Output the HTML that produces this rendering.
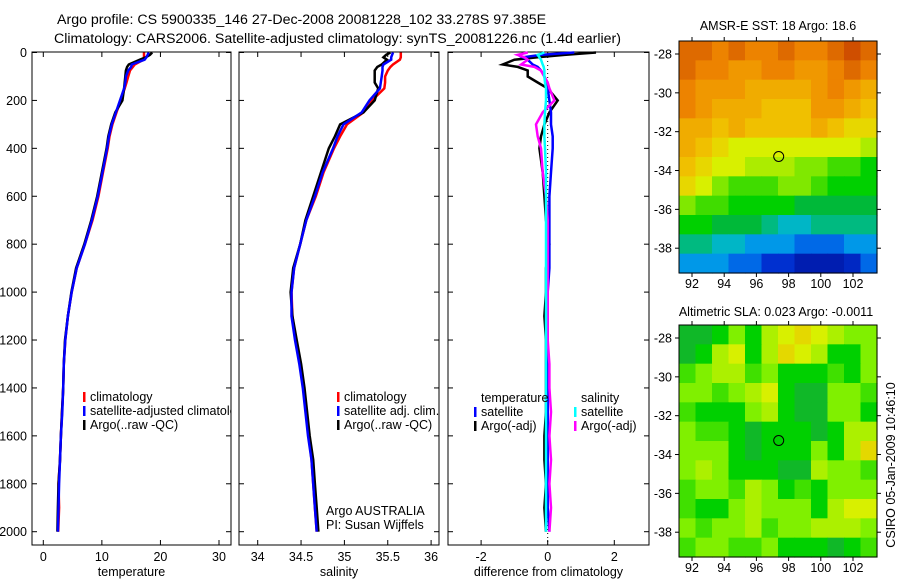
<!DOCTYPE html>
<html><head><meta charset="utf-8"><style>
body{margin:0;background:#fff;}
svg{display:block;font-family:"Liberation Sans",sans-serif;}
text{font-size:12.5px;fill:#000;}
</style></head><body>
<svg id="c" width="900" height="580" xmlns="http://www.w3.org/2000/svg">
<defs><clipPath id="p1clip"><rect x="32" y="52" width="199" height="493"/></clipPath></defs>
<rect width="900" height="580" fill="#fff"/>
<text x="57" y="24" style="font-size:14.2px">Argo profile: CS 5900335_146 27-Dec-2008 20081228_102 33.278S 97.385E</text>
<text x="54" y="43" style="font-size:14.2px">Climatology: CARS2006. Satellite-adjusted climatology: synTS_20081226.nc (1.4d earlier)</text>
<text x="778" y="30" text-anchor="middle">AMSR-E SST: 18 Argo: 18.6</text>
<text x="776" y="316" text-anchor="middle">Altimetric SLA: 0.023 Argo: -0.0011</text>
<text transform="translate(895,465) rotate(-90)" text-anchor="middle">CSIRO 05-Jan-2009 10:46:10</text>
</svg>
<script>
const depths=[0,10,20,30,50,60,75,100,125,150,200,250,300,350,400,500,600,700,800,900,1000,1100,1200,1300,1400,1500,1600,1700,1800,1900,2000];
const tempClim=[17.2,17.2,17.2,17.1,15.6,15.3,14.8,14.5,14.2,13.9,13.2,12.5,11.8,11.3,11.0,10.2,9.4,8.4,7.1,5.7,4.85,4.2,3.75,3.5,3.4,3.2,3.0,2.85,2.6,2.7,2.55];
const tempSatClim=[18.0,17.8,17.6,17.3,15.1,15.0,14.5,14.1,14.0,13.8,13.1,12.4,11.7,11.2,10.9,10.1,9.3,8.3,7.1,5.7,4.85,4.2,3.75,3.5,3.4,3.25,3.0,2.85,2.7,2.6,2.5];
const tempArgo=[18.6,18.2,17.5,16.5,14.6,14.3,14.1,14.0,13.9,13.8,13.5,12.3,11.6,11.1,10.8,10.0,9.2,8.2,7.0,5.6,4.8,4.2,3.7,3.5,3.4,3.2,3.0,2.85,2.6,2.5,2.4];
const salClim=[35.65,35.65,35.65,35.64,35.56,35.53,35.5,35.47,35.47,35.46,35.32,35.22,35.03,34.95,34.88,34.76,34.67,34.56,34.49,34.42,34.39,34.4,34.44,34.49,34.53,34.56,34.59,34.62,34.64,34.66,34.68];
const salSatClim=[35.56,35.55,35.54,35.54,35.45,35.44,35.44,35.43,35.42,35.41,35.29,35.2,34.99,34.92,34.87,34.75,34.66,34.56,34.49,34.42,34.39,34.39,34.43,34.48,34.52,34.55,34.58,34.62,34.64,34.66,34.68];
const salArgo=[35.53,35.48,35.45,35.49,35.43,35.38,35.35,35.35,35.35,35.39,35.35,35.22,34.95,34.89,34.82,34.73,34.64,34.55,34.49,34.41,34.38,34.4,34.45,34.5,34.54,34.57,34.6,34.64,34.66,34.68,34.7];
const dTempArgo=[1.45,0.5,-0.3,-1.0,-1.35,-0.9,-0.6,-0.6,-0.3,0,0.3,0.05,-0.1,-0.2,-0.25,-0.15,-0.1,-0.05,0.05,-0.05,-0.05,-0.1,-0.05,-0.05,-0.05,-0.05,-0.1,-0.1,-0.05,-0.1,-0.05];
const dTempSat=[0.8,-0.2,-0.75,-0.6,-0.45,-0.3,-0.2,-0.1,-0.05,0,0.05,0.1,0.1,0.15,0.15,0.1,0.05,0.05,0.05,0.05,0,0,0,0,0,0,0,0,0,0,0.05];
const dSalArgo=[-0.6,-0.9,-0.7,-0.6,-0.8,-0.4,-0.2,-0.1,0,0.05,0.2,-0.15,-0.35,-0.3,-0.2,-0.15,-0.05,0,0,0,0,0,0,0.05,0.05,0.1,0.05,0.1,0.05,0.1,0.05];
const dSalSat=[-0.1,-0.3,-0.25,-0.2,-0.15,-0.12,-0.1,-0.1,-0.08,-0.05,-0.05,-0.08,-0.1,-0.1,-0.08,-0.05,-0.05,-0.05,-0.05,-0.05,-0.05,-0.05,-0.05,-0.05,-0.05,-0.05,-0.05,-0.05,-0.05,-0.05,-0.05];
const depthTicks=[0,200,400,600,800,1000,1200,1400,1600,1800,2000];
const tempTicks=[0,10,20,30];
const salTicks=[34,34.5,35,35.5,36];
const salTickLabels=["34","34.5","35","35.5","36"];
const diffTicks=[-2,0,2];
const lonTicks=[92,94,96,98,100,102];
const latTicks=[-28,-30,-32,-34,-36,-38];
const argoLon=97.385, argoLat=-33.278;
const sstGrid=[
[9,9,8.5,9,8.5,8.5,9,8.5,8.5,9,9.5,9],
[9,8.5,8.5,8,8,8.5,8.5,8,8,8.5,9,8.5],
[8.5,8,8,8,7.5,7.5,7.5,7.5,8,8.5,8,7.5],
[8.5,8,7.5,7.5,7.5,7,7,7,8,8,7.5,7],
[7.5,7.5,7,7.5,7,7,7,7,7.5,7,6.5,6.5],
[7.5,7,6.5,6,6,6,6,6,6,6,6,5.5],
[7,6.5,6,6,5.5,5.5,5.5,5,5,4.5,4.5,4],
[6.5,6,5,4.5,4.5,4.5,5,5,4.5,4,4,4],
[5,4.5,4.5,4,4,4,4,3.5,3.5,3.5,3.5,3.5],
[4,4,3.5,3.5,3.5,3,2.5,2.5,3,3,3,3],
[3,3,2.5,2.5,2,2,2,1.5,1.5,1.5,2,2],
[2,2,2,1.5,1.5,1,1,0.5,0.5,0.5,0.8,1.5]];
const slaGrid=[
[0.5,0.5,1,2,1,2.5,3,3.5,3,2.5,2,2],
[0.5,1,2.5,3,1,2.5,3.5,3,2.5,1,1,2],
[1.5,2,2.5,2.5,1.5,2,1,1,1,1.5,1,2],
[2,2,1.5,2,2.5,3,1,0.5,0.5,2,2,1.5],
[1.5,1,1,1,2,2.5,1,0.5,0.5,2,2,1],
[2,1.5,1.5,1,0.5,1,1,1,0.5,1,2.5,2.5],
[2,2,2,1,0.5,1,1,1,2,1,2.5,3.5],
[2,2.5,2,1,1,1,0.5,0.5,2.5,2,2,1.5],
[1.5,2,2,1.5,2.5,2,1,1.5,1,2,2,2],
[1.5,1,1,2,2.5,2,2,2,1,2.5,3,3],
[2,1.5,2,2,2.5,1.5,2,2,2.5,2.5,2.5,2],
[1.5,2,2,1.5,1.5,2,1,1,1,0.5,1,1.5]];

const svg=document.getElementById('c');
const NS='http://www.w3.org/2000/svg';
function mk(tag,attrs,parent){const e=document.createElementNS(NS,tag);for(const k in attrs)e.setAttribute(k,attrs[k]);(parent||svg).appendChild(e);return e;}
function txt(x,y,s,anchor,parent){const t=mk('text',{x:x,y:y,'text-anchor':anchor||'start'},parent);t.textContent=s;return t;}

const topY=52.5, yScale=(531.7-52.5)/2000;
function yD(d){return topY+d*yScale;}

function panel(name,x0,x1,xf,ticks,labels,xTitle,showY){
  const g=mk('g',{});
  
  
  const f=mk('rect',{x:x0,y:52,width:x1-x0,height:493,fill:'none',stroke:'#000','stroke-width':1},g);
  
  
  depthTicks.forEach(d=>{const y=yD(d);
    mk('line',{x1:x0,y1:y,x2:x0+5,y2:y,stroke:'#000'},g);
    mk('line',{x1:x1-5,y1:y,x2:x1,y2:y,stroke:'#000'},g);
    if(showY){const t=txt(x0-5,y+4.5,String(d),'end',g);
      
      }
  });
  ticks.forEach((v,i)=>{const x=xf(v);
    mk('line',{x1:x,y1:52,x2:x,y2:57,stroke:'#000'},g);
    mk('line',{x1:x,y1:540,x2:x,y2:545,stroke:'#000'},g);
    const t=txt(x,561,labels[i],'middle',g);
    
    
  });
  const tt=txt((x0+x1)/2,576,xTitle,'middle',g);
  
  
  return g;
}
function series(g,vals,xf,color,name,w){
  const pts=depths.map((d,i)=>xf(vals[i]).toFixed(1)+','+yD(d).toFixed(1)).join(' ');
  const p=mk('polyline',{points:pts,fill:'none',stroke:color,'stroke-width':w||2.5,'stroke-linejoin':'miter'},g);
  
  
}
function legend(g,x,y,color,label,name){
  const r=mk('rect',{x:x,y:y-9,width:2.5,height:10,fill:color},g);
  
  
  const t=txt(x+7,y,label,'start',g);
  
  
  return t;
}

const xT=v=>43.3+v*5.857;
const g1=panel('temperature-panel',32,231,xT,tempTicks,tempTicks.map(String),'temperature',true);
series(g1,tempClim,xT,'#f00','temp-climatology-line');
series(g1,tempArgo,xT,'#000','temp-argo-line');
series(g1,tempSatClim,xT,'#00f','temp-satellite-line');
legend(g1,83,401,'#f00','climatology','legend-climatology');
legend(g1,83,415,'#00f','satellite-adjusted climatology','legend-satellite-adjusted').setAttribute('clip-path','url(#p1clip)');
legend(g1,83,429,'#000','Argo(..raw -QC)','legend-argo-raw');

const xS=v=>257.7+(v-34)*86.7;
const g2=panel('salinity-panel',239,439,xS,salTicks,salTickLabels,'salinity',false);
series(g2,salClim,xS,'#f00','sal-climatology-line');
series(g2,salArgo,xS,'#000','sal-argo-line');
series(g2,salSatClim,xS,'#00f','sal-satellite-line');
legend(g2,337,401,'#f00','climatology','legend-sal-climatology');
legend(g2,337,415,'#00f','satellite adj. clim.','legend-sal-satellite');
legend(g2,337,429,'#000','Argo(..raw -QC)','legend-sal-argo');
let t=txt(326,515,'Argo AUSTRALIA','start',g2);


t=txt(326,529,'PI: Susan Wijffels','start',g2);



const xDf=v=>547.7+v*33.3;
const g3=panel('difference-panel',448,649,xDf,diffTicks,diffTicks.map(String),'difference from climatology',false);
const zl=mk('line',{x1:xDf(0),y1:53,x2:xDf(0),y2:544,stroke:'#000','stroke-dasharray':'1,3'},g3);


series(g3,dTempArgo,xDf,'#000','diff-temp-argo-line',2.5);
series(g3,dTempSat,xDf,'#00f','diff-temp-satellite-line',2.5);
series(g3,dSalArgo,xDf,'#f0f','diff-sal-argo-line',2.5);
series(g3,dSalSat,xDf,'#0ff','diff-sal-satellite-line',2.5);
t=txt(481,402,'temperature','start',g3);


t=txt(581,402,'salinity','start',g3);


legend(g3,474,416,'#00f','satellite','legend-diff-temp-satellite');
legend(g3,474,430,'#000','Argo(-adj)','legend-diff-temp-argo');
legend(g3,574,416,'#0ff','satellite','legend-diff-sal-satellite');
legend(g3,574,430,'#f0f','Argo(-adj)','legend-diff-sal-argo');

function lerpColor(stops,v){
  if(v<=stops[0][0])return stops[0][1];
  for(let i=1;i<stops.length;i++){if(v<=stops[i][0]){const a=stops[i-1],b=stops[i];const f=(v-a[0])/(b[0]-a[0]);
    const ca=a[1].match(/\w\w/g).map(h=>parseInt(h,16)),cb=b[1].match(/\w\w/g).map(h=>parseInt(h,16));
    return 'rgb('+ca.map((c,j)=>Math.round(c+(cb[j]-c)*f)).join(',')+')';}}
  return stops[stops.length-1][1];
}
const sstStops=[[0,'#000a90'],[1,'#0030d0'],[1.7,'#0080f0'],[2.3,'#00b0e0'],[2.8,'#00c0a0'],[3.3,'#00b050'],[4,'#00d000'],[5,'#80e800'],[6,'#d8f000'],[6.8,'#f0c800'],[7.6,'#f0a800'],[8.4,'#f08800'],[9.2,'#d86000'],[10,'#c03000']];
const slaStops=[[0,'#20a050'],[1,'#00d000'],[2,'#80f000'],[3,'#d8f000'],[4,'#f0c000']];

function map(name,yTop,grid,stops){
  const x0=679,x1=877,y0=yTop,y1=yTop+232;
  const lonF=v=>692+(v-92)*16.1;
  const latF=v=>y0+13+(-28-v)*19.42;
  const g=mk('g',{});
  
  
  const rows=grid.length,cols=grid[0].length;
  const cw=(x1-x0)/cols,ch=(y1-y0)/rows;
  grid.forEach((row,r)=>row.forEach((v,c)=>{
    const cell=mk('rect',{x:(x0+c*cw).toFixed(2),y:(y0+r*ch).toFixed(2),width:(cw+0.6).toFixed(2),height:(ch+0.6).toFixed(2),fill:lerpColor(stops,v)},g);
    
    
  }));
  const fr=mk('rect',{x:x0,y:y0,width:x1-x0,height:y1-y0,fill:'none',stroke:'#000'},g);
  
  
  lonTicks.forEach(v=>{const x=lonF(v);
    mk('line',{x1:x,y1:y0-4,x2:x,y2:y0,stroke:'#000'},g);
    mk('line',{x1:x,y1:y1,x2:x,y2:y1+4,stroke:'#000'},g);
    const tl=txt(x,y1+15,String(v),'middle',g);
    
    });
  latTicks.forEach(v=>{const y=latF(v);
    mk('line',{x1:x0-4,y1:y,x2:x0,y2:y,stroke:'#000'},g);
    mk('line',{x1:x1,y1:y,x2:x1+4,y2:y,stroke:'#000'},g);
    const tl=txt(x0-7,y+4.5,String(v),'end',g);
    
    });
  const c=mk('circle',{cx:lonF(argoLon),cy:latF(argoLat),r:5,fill:'none',stroke:'#000'},g);
  
  
}
map('sst-map',41,sstGrid,sstStops);
map('sla-map',325,slaGrid,slaStops);
</script>
</body></html>
